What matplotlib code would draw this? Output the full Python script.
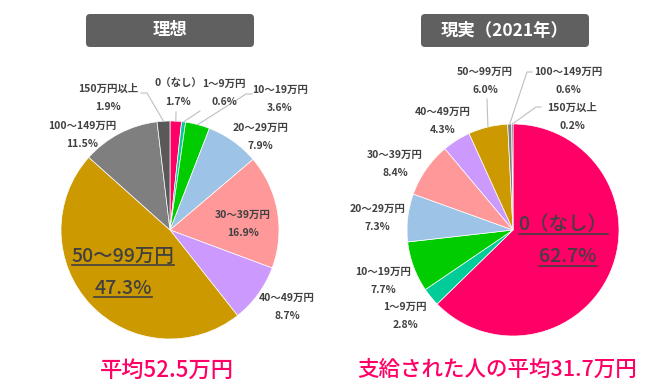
import numpy as np
import matplotlib
matplotlib.use("Agg")
import matplotlib.pyplot as plt
from matplotlib.patches import FancyBboxPatch

plt.rcParams['font.family'] = ['Noto Sans CJK JP', 'DejaVu Sans']

# --- data ---
categories = ["0（なし）", "1～9万円", "10～19万円", "20～29万円", "30～39万円",
              "40～49万円", "50～99万円", "100～149万円", "150万円以上"]
ideal = [1.7, 0.6, 3.6, 7.9, 16.9, 8.7, 47.3, 11.5, 1.9]
actual = [62.7, 2.8, 7.7, 7.3, 8.4, 4.3, 6.0, 0.6, 0.2]
actual_labels = categories[:-1] + ["150万以上"]
colors = ["#FF0066", "#00CC99", "#00CC00", "#9DC3E6", "#FF9999",
          "#CC99FF", "#CC9900", "#7F7F7F", "#595959"]

W, H = 650, 390
TXT = "#404040"
LEAD = "#BFBFBF"


def Y(y):
    # pixel row -> data y (y up)
    return H - y


fig = plt.figure(figsize=(6.5, 3.9), dpi=100)
ax = fig.add_axes([0, 0, 1, 1])


def draw_pie(vals, cx, cy, r):
    ax.pie(vals, colors=colors, startangle=90, counterclock=False,
           center=(cx, Y(cy)), radius=r,
           wedgeprops=dict(edgecolor="white", linewidth=0.5))


def edge_point(vals, i, cx, cy, r):
    tot = sum(vals)
    mid = sum(vals[:i]) + vals[i] / 2
    a = np.radians(90 - 360 * mid / tot)
    return cx + r * np.cos(a), Y(cy) + r * np.sin(a)


def label(name, pct, x, y, size=7.5):
    ax.text(x, Y(y), name, ha="center", va="center", fontsize=size,
            color=TXT, fontweight="bold")
    ax.text(x, Y(y + 18), f"{pct:.1f}%", ha="center", va="center",
            fontsize=size, color=TXT, fontweight="bold")


def leader(pts, end):
    xs = [p[0] for p in pts] + [end[0]]
    ys = [Y(p[1]) for p in pts] + [end[1]]
    ax.plot(xs, ys, color=LEAD, lw=0.8)


# --- left pie: 理想 ---
lc = (170, 230, 109)
draw_pie(ideal, *lc)
label(categories[0], ideal[0], 178, 84)
label(categories[1], ideal[1], 224, 84)
label(categories[2], ideal[2], 280, 90)
label(categories[3], ideal[3], 260, 128)
label(categories[4], ideal[4], 243, 215)
label(categories[5], ideal[5], 287, 298)
label(categories[7], ideal[7], 82, 126)
label(categories[8], ideal[8], 108, 89)
leader([(176, 112)], edge_point(ideal, 0, *lc))
leader([(200, 111)], edge_point(ideal, 1, *lc))
leader([(252, 94), (246, 94)], edge_point(ideal, 2, *lc))
leader([(141, 93), (147, 93)], edge_point(ideal, 8, *lc))

# --- right pie: 現実 ---
rc = (513, 230, 106)
draw_pie(actual, *rc)
label(actual_labels[1], actual[1], 405, 307)
label(actual_labels[2], actual[2], 383, 272)
label(actual_labels[3], actual[3], 377, 209)
label(actual_labels[4], actual[4], 395, 155)
label(actual_labels[5], actual[5], 443, 112)
label(actual_labels[6], actual[6], 485, 72)
label(actual_labels[7], actual[7], 568, 72)
label(actual_labels[8], actual[8], 572, 108)
leader([(487, 99)], edge_point(actual, 6, *rc))
leader([(532, 72), (527, 72)], edge_point(actual, 7, *rc))
leader([(541, 107), (536, 107)], edge_point(actual, 8, *rc))

# big underlined labels
big = [
    (categories[6], 123, 256),
    (f"{ideal[6]:.1f}%", 123, 288),
    (categories[0], 563, 225),
    (f"{actual[0]:.1f}%", 568, 257),
]
big_texts = [ax.text(x, Y(y), s, ha="center", va="center", fontsize=14,
                     color=TXT, fontweight="medium") for s, x, y in big]

# titles
for x0, x1, title in [(86, 254, "理想"), (421, 589, "現実（2021年）")]:
    box = FancyBboxPatch((x0, Y(47)), x1 - x0, 33,
                         boxstyle="round,pad=0,rounding_size=4",
                         facecolor="#606060", edgecolor="none")
    ax.add_patch(box)
    ax.text((x0 + x1) / 2, Y(30.5), title, ha="center", va="center",
            fontsize=12.5, color="white", fontweight="bold")

# bottom notes
ax.text(167, Y(370), "平均52.5万円", ha="center", va="center",
        fontsize=16, color="#FF0066", fontweight="medium")
ax.text(497, Y(370), "支給された人の平均31.7万円", ha="center", va="center",
        fontsize=15.5, color="#FF0066", fontweight="medium")

ax.set_xlim(0, W)
ax.set_ylim(0, H)
ax.set_aspect("auto")
ax.axis("off")

# underline the big labels
fig.canvas.draw()
rend = fig.canvas.get_renderer()
inv = ax.transData.inverted()
for t in big_texts:
    bb = t.get_window_extent(rend)
    (x0, y0), (x1, _) = inv.transform([(bb.x0, bb.y0), (bb.x1, bb.y1)])
    ax.plot([x0, x1], [y0 + 1, y0 + 1], color=TXT, lw=1.2)

fig.savefig("out.png", dpi=100)
